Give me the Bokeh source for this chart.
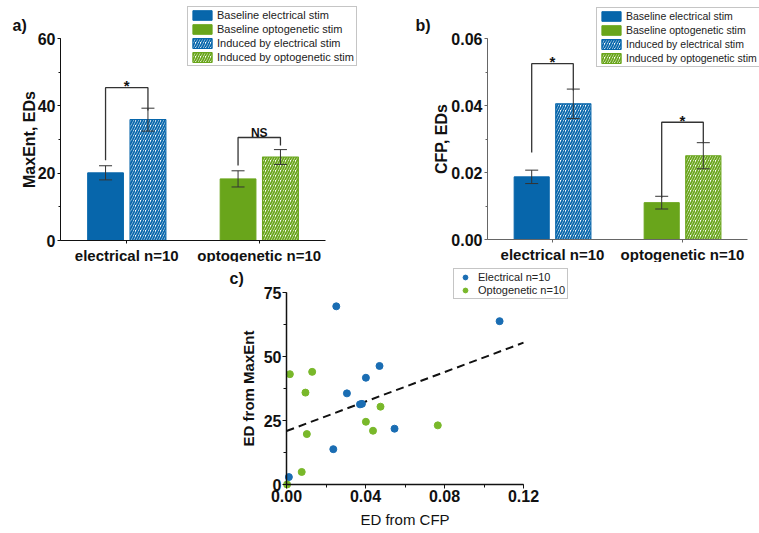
import numpy as np
from bokeh.plotting import figure
from bokeh.models import (ColumnDataSource, Range1d, Whisker, TeeHead, Legend, LegendItem,
                          SingleIntervalTicker, FixedTicker, NumeralTickFormatter, Label, Spacer)
from bokeh.layouts import column, row
from bokeh.embed import file_html
from bokeh.resources import INLINE
from bokeh.core.properties import value

# ---------------- data ----------------
groups = ["electrical n=10", "optogenetic n=10"]
legend_labels = ["Baseline electrical stim", "Baseline optogenetic stim",
                 "Induced by electrical stim", "Induced by optogenetic stim"]

# panel a: MaxEnt, EDs
a_baseline = [20.1, 18.3]
a_baseline_err = [2.1, 2.4]
a_induced = [35.9, 24.8]
a_induced_err = [3.4, 2.2]
a_sig = ["*", "NS"]
a_br_top = [45.4, 30.6]
a_br_left = [23.8, 22.3]
a_br_right = [38.6, 28.2]

# panel b: CFP, EDs
b_baseline = [0.0187, 0.0110]
b_baseline_err = [0.0020, 0.0019]
b_induced = [0.0405, 0.0250]
b_induced_err = [0.0044, 0.0039]
b_sig = ["*", "*"]
b_br_top = [0.0525, 0.0350]
b_br_left = [0.0260, 0.0125]
b_br_right = [0.0445, 0.0287]

# panel c: scatter
elec_cfp = [0.0252, 0.1079, 0.0471, 0.0402, 0.0306, 0.0372, 0.0382, 0.0547, 0.0237, 0.0012]
elec_maxent = [69.6, 63.8, 46.3, 41.7, 35.6, 31.3, 31.5, 21.8, 13.8, 2.9]
opto_cfp = [0.0017, 0.0130, 0.0096, 0.0476, 0.0402, 0.0438, 0.0766, 0.0103, 0.0077, 0.0003]
opto_maxent = [43.1, 44.0, 35.9, 30.4, 24.5, 21.0, 23.1, 19.7, 4.9, 0.0]
fit_intercept = 20.9
fit_slope = 287.5
c_xlim = [0.0, 0.12]
c_ylim = [0, 75]

# ---------------- style ----------------
BLUE = "#0766ab"
GREEN = "#69a51b"
SC_BLUE = "#1a6db3"
SC_GREEN = "#79b82a"
FONT = "Liberation Sans"
OFFSET = 0.16
BAR_W = 0.27
INK = "#111111"


def make_fig(w, h, ax_left, ax_right, xlo, xhi, ax_bottom, ax_top, ylo, yhi):
    """Figure whose frame fills the whole canvas; axis box given in canvas pixels."""
    sx = (ax_right - ax_left) / (xhi - xlo)
    sy = (ax_bottom - ax_top) / (yhi - ylo)
    xr = Range1d(xlo - ax_left / sx, xlo + (w - ax_left) / sx)
    yr = Range1d(ylo - (h - ax_bottom) / sy, ylo + ax_bottom / sy)
    p = figure(frame_width=w, frame_height=h, min_border=0, x_range=xr, y_range=yr,
               title=None, output_backend="svg", toolbar_location=None)
    p.outline_line_color = None
    p.grid.visible = False
    p.background_fill_color = "white"
    p.border_fill_color = "white"
    px = lambda x: xlo + (x - ax_left) / sx
    py = lambda y: ylo + (ax_bottom - y) / sy
    return p, px, py


def style_axis(ax, color, tick_out=3, minor_out=2):
    ax.fixed_location = 0
    ax.axis_line_color = color
    ax.major_tick_line_color = color
    ax.minor_tick_line_color = color
    ax.major_tick_out = tick_out
    ax.major_tick_in = 0
    ax.minor_tick_out = minor_out
    ax.minor_tick_in = 0
    ax.major_label_text_font = FONT
    ax.major_label_text_font_style = "bold"
    ax.major_label_text_font_size = "16px"
    ax.major_label_text_color = INK
    ax.axis_label_text_font = FONT
    ax.axis_label_text_font_style = "bold"
    ax.axis_label_text_color = INK


def bar_panel(baseline, baseline_err, induced, induced_err, sig, br_top, br_left, br_right,
              ymax, yint, ylabel, fmt, tag, w, ax_left, ax_right, ax_top, ax_bottom,
              legend_loc, legend_font, axis_color, tag_px, label_standoff):
    H = 262
    p, px, py = make_fig(w, H, ax_left, ax_right, 0, len(groups), ax_bottom, ax_top, 0, ymax)

    centers = np.arange(len(groups)) + 0.5
    colors = [BLUE, GREEN]
    src_base = ColumnDataSource(dict(x=centers - OFFSET, top=baseline, color=colors,
                                     upper=np.array(baseline) + np.array(baseline_err),
                                     lower=np.array(baseline) - np.array(baseline_err)))
    src_ind = ColumnDataSource(dict(x=centers + OFFSET, top=induced, color=colors,
                                    upper=np.array(induced) + np.array(induced_err),
                                    lower=np.array(induced) - np.array(induced_err)))
    r_base = p.vbar(x="x", top="top", width=BAR_W, bottom=0, source=src_base,
                    fill_color="color", line_color="color", line_width=1)
    r_ind = p.vbar(x="x", top="top", width=BAR_W, bottom=0, source=src_ind,
                   fill_color="white", line_color="color", line_width=1.2,
                   hatch_pattern="right_diagonal_line", hatch_color="color",
                   hatch_scale=5, hatch_weight=1.8)

    for s in (src_base, src_ind):
        wsk = Whisker(source=s, base="x", upper="upper", lower="lower", dimension="height",
                      line_color="#333333", line_width=1,
                      upper_head=TeeHead(size=13, line_color="#333333", line_width=1),
                      lower_head=TeeHead(size=13, line_color="#333333", line_width=1),
                      level="overlay")
        p.add_layout(wsk)

    xs = [[c - OFFSET, c - OFFSET, c + OFFSET, c + OFFSET] for c in centers]
    ys = [[l, t, t, r] for l, t, r in zip(br_left, br_top, br_right)]
    p.multi_line(xs=xs, ys=ys, line_color="#333333", line_width=1.3)
    p.text(x=centers, y=br_top, text=sig,
           text_font_size=["15px" if s == "*" else "12px" for s in sig],
           y_offset=[-2 if s == "*" else -4 for s in sig],
           text_align="center", text_baseline="alphabetic", text_font=value(FONT),
           text_font_style="bold", text_color=INK)

    items = [LegendItem(label=legend_labels[0], renderers=[r_base], index=0),
             LegendItem(label=legend_labels[1], renderers=[r_base], index=1),
             LegendItem(label=legend_labels[2], renderers=[r_ind], index=0),
             LegendItem(label=legend_labels[3], renderers=[r_ind], index=1)]
    leg = Legend(items=items, location=legend_loc, margin=0, padding=2, spacing=2,
                 glyph_width=24, glyph_height=12, label_height=12, label_standoff=3,
                 label_text_font=FONT, label_text_font_size=legend_font,
                 label_text_color="#222222",
                 border_line_color="#8c8c8c", border_line_width=1,
                 background_fill_color="white", background_fill_alpha=1)
    p.add_layout(leg, "center")

    yax = p.yaxis[0]
    style_axis(yax, axis_color)
    yax.bounds = (0, ymax)
    yax.ticker = SingleIntervalTicker(interval=yint, num_minor_ticks=2)
    yax.formatter = NumeralTickFormatter(format=fmt)
    yax.axis_label = ylabel
    yax.axis_label_text_font_size = "16px"
    yax.axis_label_standoff = label_standoff
    yax.major_label_standoff = 2

    xax = p.xaxis[0]
    style_axis(xax, axis_color)
    xax.bounds = (0, len(groups))
    xax.ticker = FixedTicker(ticks=list(centers), minor_ticks=[])
    xax.major_label_overrides = {float(c): g for c, g in zip(centers, groups)}
    xax.major_label_text_font_size = "15px"
    xax.major_label_standoff = 3

    p.add_layout(Label(x=px(tag_px[0]), y=py(tag_px[1]), text=tag, text_font=FONT,
                       text_font_style="bold", text_font_size="16px",
                       text_baseline="middle", text_color=INK))
    return p


pa = bar_panel(a_baseline, a_baseline_err, a_induced, a_induced_err, a_sig, a_br_top,
               a_br_left, a_br_right, 60, 20, "MaxEnt, EDs", "0", "a)", 380,
               60, 325, 38, 240, (187, 262 - 66), "11px", INK, (12, 25), -3)
pb = bar_panel(b_baseline, b_baseline_err, b_induced, b_induced_err, b_sig, b_br_top,
               b_br_left, b_br_right, 0.06, 0.02, "CFP, EDs", "0.00", "b)", 379,
               107, 367, 38, 239, (216, 262 - 67), "10.5px", "#666666", (35, 25), -2)

# ---------------- panel c ----------------
CW, CH = 360, 271
pc, cpx, cpy = make_fig(CW, CH, 66, 303, c_xlim[0], c_xlim[1], 222, 30, c_ylim[0], c_ylim[1])
fit_x = np.array(c_xlim)
pc.line(fit_x, fit_intercept + fit_slope * fit_x, line_color=INK, line_width=2,
        line_dash="8 5")
r_e = pc.scatter(elec_cfp, elec_maxent, size=7, fill_color=SC_BLUE, line_color=SC_BLUE)
r_o = pc.scatter(opto_cfp, opto_maxent, size=7, fill_color=SC_GREEN, line_color=SC_GREEN)
legc = Legend(items=[LegendItem(label="Electrical n=10", renderers=[r_e]),
                     LegendItem(label="Optogenetic n=10", renderers=[r_o])],
              location=(233, CH - 37), margin=0, padding=2, spacing=1, glyph_width=18,
              glyph_height=12, label_height=12, label_standoff=4, label_text_font=FONT,
              label_text_font_size="11px", label_text_color="#222222",
              border_line_color="#8c8c8c", background_fill_color="white")
pc.add_layout(legc, "center")
for ax in (pc.xaxis[0], pc.yaxis[0]):
    style_axis(ax, INK, tick_out=4, minor_out=3)
    ax.axis_line_width = 1.5
    ax.axis_label_text_font_size = "15px"
    ax.major_label_standoff = 1
    ax.axis_label_standoff = 6
pc.yaxis[0].axis_label_standoff = 4
pc.xaxis[0].bounds = tuple(c_xlim)
pc.yaxis[0].bounds = tuple(c_ylim)
pc.xaxis[0].ticker = SingleIntervalTicker(interval=0.04, num_minor_ticks=2)
pc.xaxis[0].formatter = NumeralTickFormatter(format="0.00")
pc.yaxis[0].ticker = SingleIntervalTicker(interval=25, num_minor_ticks=2)
pc.xaxis[0].axis_label = "ED from CFP"
pc.yaxis[0].axis_label = "ED from MaxEnt"
pc.xaxis[0].axis_label_text_font_style = "normal"
pc.add_layout(Label(x=cpx(9), y=cpy(16), text="c)", text_font=FONT, text_font_style="bold",
                    text_font_size="16px", text_baseline="middle", text_color=INK))

layout = column(row(pa, pb), row(Spacer(width=220, height=10), pc))
open("out.html", "w").write(file_html(layout, INLINE))
